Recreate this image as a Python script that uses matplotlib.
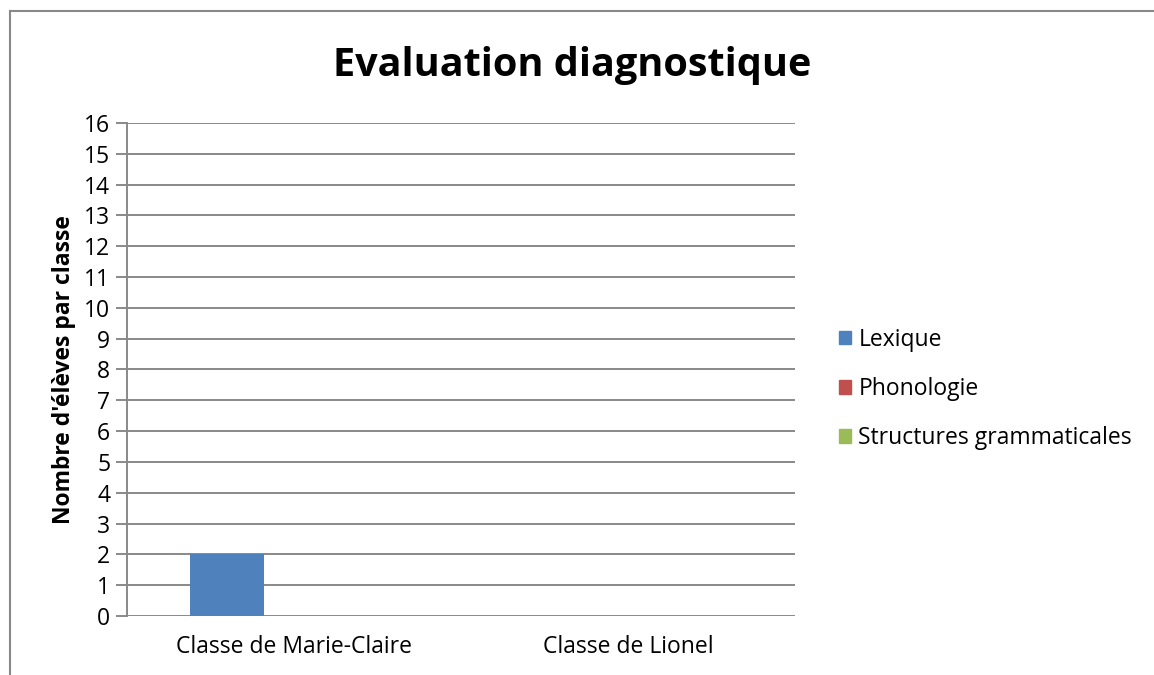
import numpy as np
import matplotlib
matplotlib.use("Agg")
import matplotlib.pyplot as plt
from matplotlib.lines import Line2D
from matplotlib.patches import Patch

# data
classes = ["Classe de Marie-Claire", "Classe de Lionel"]
series = ["Lexique", "Phonologie", "Structures grammaticales"]
lexique = [2, 0]
phonologie = [0, 0]
structures = [0, 0]
colors = ["#4f81bd", "#c0504d", "#9bbb59"]

plt.rcParams['font.family'] = ['Open Sans', 'DejaVu Sans']
grid_col = "#898989"
fs = 16.5

fig = plt.figure(figsize=(11.54, 6.75), dpi=100)
ax = fig.add_axes([0.110, 0.0874, 0.579, 0.7304])

x = np.arange(len(classes))
w = 0.22
for i, (vals, name) in enumerate(zip([lexique, phonologie, structures], series)):
    ax.bar(x + (i - 1) * 0.2, vals, width=w, color=colors[i], label=name, zorder=3)

ax.set_xlim(-0.5, 1.5)
ax.set_ylim(0, 16)
ax.set_yticks(range(0, 17))
ax.set_xticks(x)
ax.set_xticklabels(classes, fontsize=fs)
ax.tick_params(axis='x', length=0, pad=14)
ax.tick_params(axis='y', length=8, width=1.4, color=grid_col, labelsize=fs, pad=4)
ax.yaxis.grid(True, color=grid_col, linewidth=1.4, zorder=0)
for s in ["top", "right", "bottom"]:
    ax.spines[s].set_visible(False)
ax.spines["left"].set_color(grid_col)
ax.spines["left"].set_linewidth(1.4)

ax.set_ylabel("Nombre d'élèves par classe", fontsize=fs, fontweight='bold', labelpad=6)

fig.text(0.496, 0.903, "Evaluation diagnostique", ha='center', va='center',
         fontsize=28.5, fontweight='bold')

# legend
handles = [Patch(color=c, label=n) for c, n in zip(colors, series)]
fig.legend(handles=handles, loc='center left', bbox_to_anchor=(0.717, 0.424),
           frameon=False, fontsize=fs, handlelength=0.55, handleheight=0.55,
           handletextpad=0.3, labelspacing=1.1, borderpad=0)

# chart border (top and left visible)
fig.add_artist(Line2D([0.0087, 1.0], [0.9837, 0.9837], color=grid_col, lw=1.5))
fig.add_artist(Line2D([0.0087, 0.0087], [0.0, 0.9837], color=grid_col, lw=1.5))

fig.savefig("out.png", dpi=100)
